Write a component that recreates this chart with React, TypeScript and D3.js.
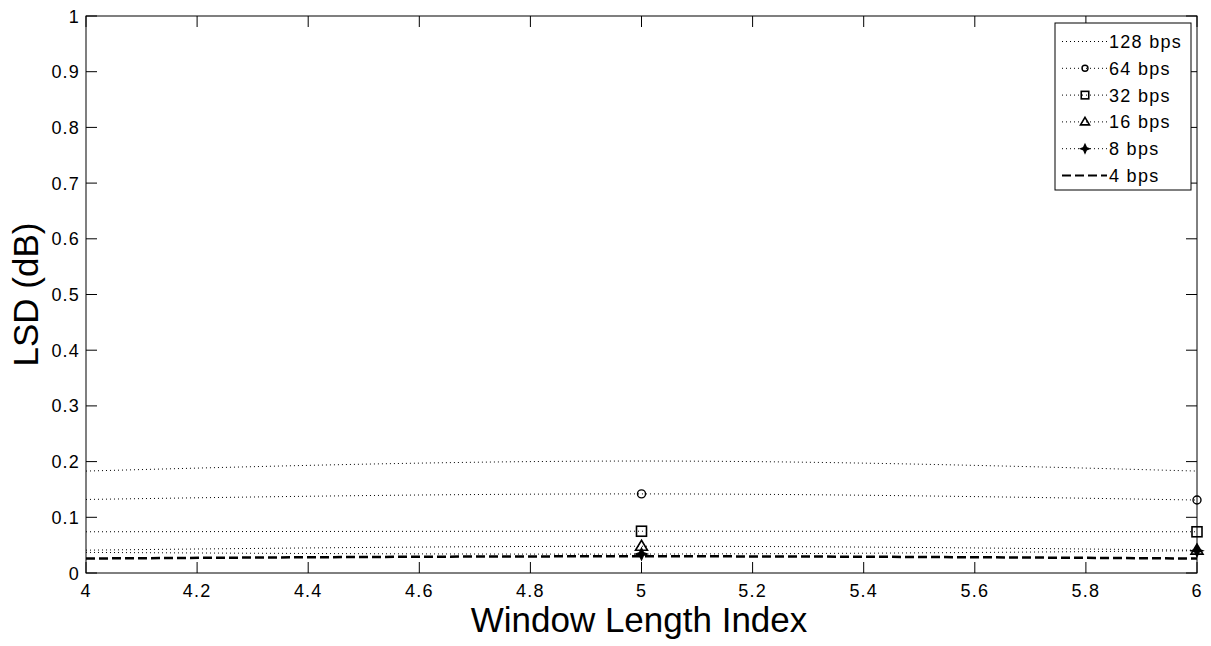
import React from "react";
import * as d3 from "d3";

const xTicks = [4, 4.2, 4.4, 4.6, 4.8, 5, 5.2, 5.4, 5.6, 5.8, 6];
const yTicks = [0, 0.1, 0.2, 0.3, 0.4, 0.5, 0.6, 0.7, 0.8, 0.9, 1];
const xValues = [4, 5, 6];
const markerX = [5, 6];
const seriesNames = ["128 bps", "64 bps", "32 bps", "16 bps", "8 bps", "4 bps"];
const s128 = [0.183, 0.201, 0.183];
const s64 = [0.132, 0.142, 0.131];
const s32 = [0.074, 0.075, 0.074];
const s16 = [0.041, 0.048, 0.041];
const s8 = [0.037, 0.034, 0.04];
const s4 = [0.026, 0.03, 0.026];
const seriesValues = [s128, s64, s32, s16, s8, s4];
const markers = ["none", "circle", "square", "triangle", "star", "none"];

const W = 1211, H = 646;
const L = 86, R = 1197, T = 16, B = 573;

function Marker({ type, x, y, s = 1 }: { type: string; x: number; y: number; s?: number }) {
  if (type === "circle") return <circle cx={x} cy={y} r={4 * s} fill="none" stroke="#000" strokeWidth={1.4} />;
  if (type === "square") return <rect x={x - 5 * s} y={y - 5 * s} width={10 * s} height={10 * s} fill="none" stroke="#000" strokeWidth={1.6} />;
  if (type === "triangle") return <path d={`M${x},${y - 6 * s}L${x + 6 * s},${y + 4 * s}L${x - 6 * s},${y + 4 * s}Z`} fill="none" stroke="#000" strokeWidth={1.6} />;
  if (type === "star") return <path d={`M${x},${y - 6 * s}L${x + 2 * s},${y - 1.5 * s}L${x + 6 * s},${y}L${x + 2 * s},${y + 1.5 * s}L${x},${y + 6 * s}L${x - 2 * s},${y + 1.5 * s}L${x - 6 * s},${y}L${x - 2 * s},${y - 1.5 * s}Z`} fill="#000" stroke="#000" strokeWidth={1.2} />;
  return null;
}

export default function App() {
  const x = d3.scaleLinear().domain([4, 6]).range([L, R]);
  const y = d3.scaleLinear().domain([0, 1]).range([B, T]);
  const line = d3.line<number>().x((_, i) => x(xValues[i])).y((d) => y(d)).curve(d3.curveNatural);
  const font = "'Liberation Sans', Arial, sans-serif";
  const legX = 1055, legY = 23, legW = 136, legH = 167;
  return (
    <svg width={W} height={H} style={{ position: "absolute", left: 0, top: 0, background: "#fff" }} fontFamily={font}>
      <rect x={0} y={0} width={W} height={H} fill="#fff" />
      {seriesValues.map((vals, i) => (
        <path key={i} d={line(vals) || ""} fill="none" stroke="#000"
          strokeWidth={i === 5 ? 2.5 : 1}
          strokeDasharray={i === 5 ? "9,4" : "1,3"} />
      ))}
      {seriesValues.map((vals, i) =>
        markerX.map((mx) => {
          const idx = xValues.indexOf(mx);
          return <Marker key={`${i}-${mx}`} type={markers[i]} x={x(mx)} y={y(vals[idx])} />;
        })
      )}
      <rect x={L} y={T} width={R - L} height={B - T} fill="none" stroke="#000" strokeWidth={1} />
      {xTicks.map((t) => (
        <g key={`x${t}`}>
          <line x1={x(t)} x2={x(t)} y1={B} y2={B - 11} stroke="#000" />
          <line x1={x(t)} x2={x(t)} y1={T} y2={T + 11} stroke="#000" />
          <text x={x(t)} y={B + 24} fontSize={18} letterSpacing={1.2} textAnchor="middle">{String(t)}</text>
        </g>
      ))}
      {yTicks.map((t) => (
        <g key={`y${t}`}>
          <line x1={L} x2={L + 11} y1={y(t)} y2={y(t)} stroke="#000" />
          <line x1={R} x2={R - 11} y1={y(t)} y2={y(t)} stroke="#000" />
          <text x={L - 6} y={y(t) + 6.5} fontSize={18} letterSpacing={1.2} textAnchor="end">{String(t)}</text>
        </g>
      ))}
      <text x={639} y={632} fontSize={35} textAnchor="middle">Window Length Index</text>
      <text transform={`translate(38,${(T + B) / 2}) rotate(-90)`} fontSize={35} textAnchor="middle">LSD (dB)</text>
      <rect x={legX} y={legY} width={legW} height={legH} fill="#fff" stroke="#000" strokeWidth={1} />
      {seriesNames.map((n, i) => {
        const base = 48 + i * 26.8;
        const ly = base - 6.5;
        return (
          <g key={n}>
            <line x1={1062} x2={1107} y1={ly} y2={ly} stroke="#000"
              strokeWidth={i === 5 ? 2 : 1} strokeDasharray={i === 5 ? "9,4" : "1,3"} />
            <Marker type={markers[i]} x={1085} y={ly} s={0.75} />
            <text x={1109} y={base} fontSize={18} letterSpacing={1.3}>{n}</text>
          </g>
        );
      })}
    </svg>
  );
}
